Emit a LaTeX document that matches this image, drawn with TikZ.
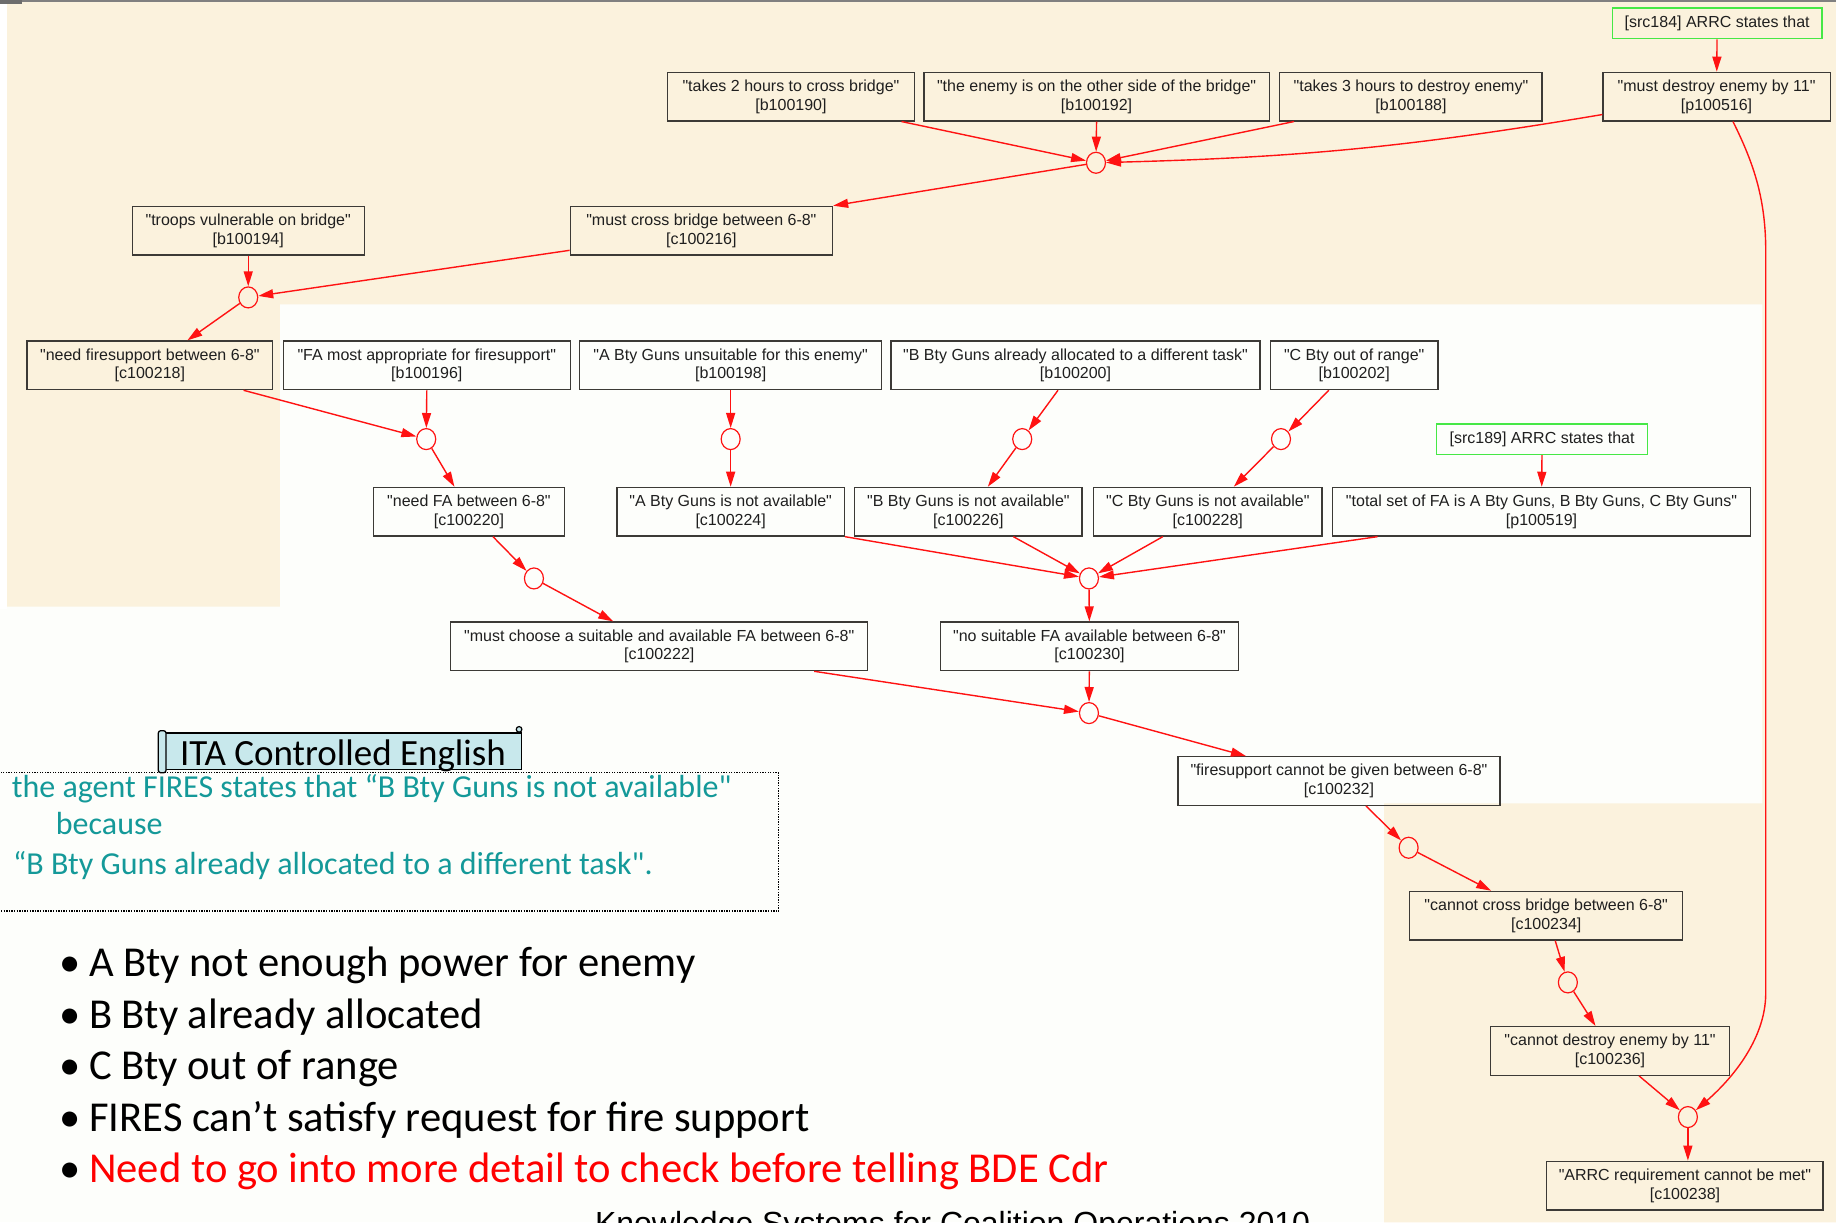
\documentclass[tikz,border=0pt]{standalone}
\usepackage{fontspec}
\setmainfont{Liberation Sans}[Ligatures=TeXOff]
\newfontfamily\calibri{Carlito}[Ligatures=TeXOff]
\usetikzlibrary{arrows.meta,shapes.geometric}

\definecolor{beige}{RGB}{251,242,221}
\definecolor{paper}{RGB}{253,254,251}
\definecolor{arrred}{RGB}{255,18,18}
\definecolor{boxgray}{RGB}{60,58,54}
\definecolor{srcgreen}{RGB}{70,232,70}
\definecolor{teal}{RGB}{20,153,153}
\definecolor{scrollblue}{RGB}{200,232,236}
\definecolor{topgray}{RGB}{128,128,128}

\begin{document}
\begin{tikzpicture}[x=1.1709pt,y=-1.1709pt,
  bw/.style={minimum width=#1*1.1709pt},
  box/.style={draw=boxgray, line width=1.3pt, minimum height=48.6pt, inner sep=0pt,
    align=center, text=black!88, font=\fontsize{16}{18.7}\selectfont},
  srcbox/.style={draw=srcgreen, line width=1.5pt, minimum height=30.4pt, inner sep=0pt,
    text=black!88, font=\fontsize{16}{18.7}\selectfont},
  jn/.style={ellipse, draw=arrred, line width=1.2pt, minimum width=19pt, minimum height=21pt, inner sep=0pt},
  arr/.style={draw=arrred, line width=1.4pt, -{Triangle[length=15pt,width=9pt]}},
  slide/.style={inner sep=0pt, anchor=base west},
  cetext/.style={slide, text=teal, font=\calibri\fontsize{32}{38}\selectfont},
  bullettext/.style={slide, font=\calibri\fontsize{42.6}{50}\selectfont},
]
\useasboundingbox (0,0) rectangle (1568,1044);

% ---------- background panels ----------
\fill[paper] (0,0) rectangle (1568,1044);
\fill[white] (0,0) rectangle (6,520);
\fill[beige] (6,0) -- (1568,0) -- (1568,1044) -- (1182,1044) -- (1182,686)
  -- (1505,686) -- (1505,260) -- (239,260) -- (239,518) -- (6,518) -- cycle;
\fill[topgray] (0,0) rectangle (1568,1.6);
\fill[topgray!85!black] (0,0) rectangle (19,3.4);

% ---------- statement boxes ----------
\node[srcbox,bw=179] (src184) at (1466.5,20) {[src184] ARRC states that};
\node[box,bw=211] (b100190) at (675.5,82.5) {"takes 2 hours to cross bridge"\\{[b100190]}};
\node[box,bw=295] (b100192) at (936.5,82.5) {"the enemy is on the other side of the bridge"\\{[b100192]}};
\node[box,bw=224] (b100188) at (1205,82.5) {"takes 3 hours to destroy enemy"\\{[b100188]}};
\node[box,bw=194] (p100516) at (1466,82.5) {"must destroy enemy by 11"\\{[p100516]}};

\node[box,bw=198] (b100194) at (212,197) {"troops vulnerable on bridge"\\{[b100194]}};
\node[box,bw=224] (c100216) at (599,197) {"must cross bridge between 6-8"\\{[c100216]}};

\node[box,bw=210] (c100218) at (128,312) {"need firesupport between 6-8"\\{[c100218]}};
\node[box,bw=245] (b100196) at (364.5,312) {"FA most appropriate for firesupport"\\{[b100196]}};
\node[box,bw=258] (b100198) at (624,312) {"A Bty Guns unsuitable for this enemy"\\{[b100198]}};
\node[box,bw=315] (b100200) at (918.5,312) {"B Bty Guns already allocated to a different task"\\{[b100200]}};
\node[box,bw=143] (b100202) at (1156.5,312) {"C Bty out of range"\\{[b100202]}};
\node[srcbox,bw=180] (src189) at (1317,375) {[src189] ARRC states that};

\node[box,bw=163] (c100220) at (400.5,437) {"need FA between 6-8"\\{[c100220]}};
\node[box,bw=194] (c100224) at (624,437) {"A Bty Guns is not available"\\{[c100224]}};
\node[box,bw=194] (c100226) at (827,437) {"B Bty Guns is not available"\\{[c100226]}};
\node[box,bw=195] (c100228) at (1031.5,437) {"C Bty Guns is not available"\\{[c100228]}};
\node[box,bw=357] (p100519) at (1316.5,437) {"total set of FA is A Bty Guns, B Bty Guns, C Bty Guns"\\{[p100519]}};

\node[box,bw=356] (c100222) at (563,552) {"must choose a suitable and available FA between 6-8"\\{[c100222]}};
\node[box,bw=255] (c100230) at (930.5,552) {"no suitable FA available between 6-8"\\{[c100230]}};

\node[box,bw=275] (c100232) at (1143.5,667) {"firesupport cannot be given between 6-8"\\{[c100232]}};
\node[box,bw=233] (c100234) at (1320.5,782) {"cannot cross bridge between 6-8"\\{[c100234]}};
\node[box,bw=204] (c100236) at (1375,897.5) {"cannot destroy enemy by 11"\\{[c100236]}};
\node[box,bw=236] (c100238) at (1439,1012.5) {"ARRC requirement cannot be met"\\{[c100238]}};

% ---------- inference junctions ----------
\node[jn] (c1) at (936,139) {};
\node[jn] (c2) at (212,254) {};
\node[jn] (c3) at (364,375) {};
\node[jn] (c4) at (624,375) {};
\node[jn] (c5) at (873,375) {};
\node[jn] (c6) at (1094,375) {};
\node[jn] (c7) at (456,494) {};
\node[jn] (c8) at (930,494) {};
\node[jn] (c9) at (930,609) {};
\node[jn] (c10) at (1203,724) {};
\node[jn] (c11) at (1339,839) {};
\node[jn] (c12) at (1441.5,954) {};

\coordinate (rvTop) at (1508,215);
\coordinate (rvBot) at (1508,848);

% ---------- connectors ----------
\draw[arr] (src184) -- (p100516);
\draw[arr] ([xshift=110.6pt]b100190.south) -- (c1);
\draw[arr] (b100192.south) -- (c1);
\draw[arr] ([xshift=-117pt]b100188.south) -- (c1);
\draw[arr] ([yshift=7pt]p100516.south west) to[bend left=4] (c1);
\draw[arr] (c1) -- (c100216.north east);
\draw[arr] ([yshift=5.3pt]c100216.south west) -- (c2);
\draw[arr] (b100194.south) -- (c2);
\draw[arr] (c2) -- ([xshift=37.5pt]c100218.north);
\draw[arr] ([xshift=93.7pt]c100218.south) -- (c3);
\draw[arr] (b100196.south) -- (c3);
\draw[arr] (c3) -- ([xshift=-14.5pt]c100220.north);
\draw[arr] (b100198.south) -- (c4);
\draw[arr] (c4) -- (c100224.north);
\draw[arr] ([xshift=-17.5pt]b100200.south) -- (c5);
\draw[arr] (c5) -- ([xshift=19.5pt]c100226.north);
\draw[arr] ([xshift=-25.4pt]b100202.south) -- (c6);
\draw[arr] (c6) -- ([xshift=26pt]c100228.north);
\draw[arr] (src189) -- (p100519);
\draw[arr] ([xshift=24pt]c100220.south) -- (c7);
\draw[arr] (c7) -- ([xshift=-46pt]c100222.north);
\draw[arr] (c100224.south east) -- (c8);
\draw[arr] ([xshift=45pt]c100226.south) -- (c8);
\draw[arr] ([xshift=-45pt]c100228.south) -- (c8);
\draw[arr] ([xshift=-164pt]p100519.south) -- (c8);
\draw[arr] (c8) -- (c100230);
\draw[arr] ([xshift=155pt]c100222.south) -- (c9);
\draw[arr] (c100230) -- (c9);
\draw[arr] (c9) -- ([xshift=-93pt]c100232.north);
\draw[arr] ([xshift=27pt]c100232.south) -- (c10);
\draw[arr] (c10) -- ([xshift=-55pt]c100234.north);
\draw[arr] ([xshift=9pt]c100234.south) -- (c11);
\draw[arr] (c11) -- ([xshift=-14.5pt]c100236.north);
\draw[arr] ([xshift=29pt]c100236.south) -- (c12);
\draw[arr] (c12) -- (c12 |- c100238.north);
\draw[arr] ([xshift=16.4pt]p100516.south) .. controls (1498,140) and (1508,170) .. (rvTop)
  -- (rvBot) .. controls (1508,890) and (1475,925) .. (c12);

% ---------- ITA Controlled English scroll ----------
\draw[fill=scrollblue, line width=1.5pt] (139,626) rectangle (445.5,657);
\draw[fill=scrollblue, line width=1.3pt, rounded corners=2.5pt] (135.2,624) rectangle (141.8,660);
\draw[fill=scrollblue, line width=1.2pt] (443.3,622.9) circle (2.4);
\node[slide, font=\calibri\fontsize{37}{44}\selectfont] (itatitle) at (153.7,653.4) {ITA Controlled English};

\draw[line width=1.2pt, dash pattern=on 1.3pt off 1.3pt] (-1,660) rectangle (665,778);
\node[cetext] (ce1) at (10,681.5) {the agent FIRES states that “B Bty Guns is not available"};
\node[cetext] (ce2) at (47.6,713) {because};
\node[cetext] (ce3) at (11,747) {“B Bty Guns already allocated to a different task".};

% ---------- bullet list ----------
\foreach \yy/\txt/\col [count=\i] in {
  834/A Bty not enough power for enemy/black,
  878/B Bty already allocated/black,
  922/C Bty out of range/black,
  966/FIRES can’t satisfy request for fire support/black,
  1010/Need to go into more detail to check before telling BDE Cdr/red} {
  \node[bullettext] (dot\i) at (51,\yy) {•};
  \node[bullettext, text=\col] (item\i) at (76,\yy) {\txt};
}

% ---------- footer ----------
\node[slide, font=\fontsize{32}{38}\selectfont] (footer) at (508,1054.6)
  {Knowledge Systems for Coalition Operations 2010};
\end{tikzpicture}
\end{document}
